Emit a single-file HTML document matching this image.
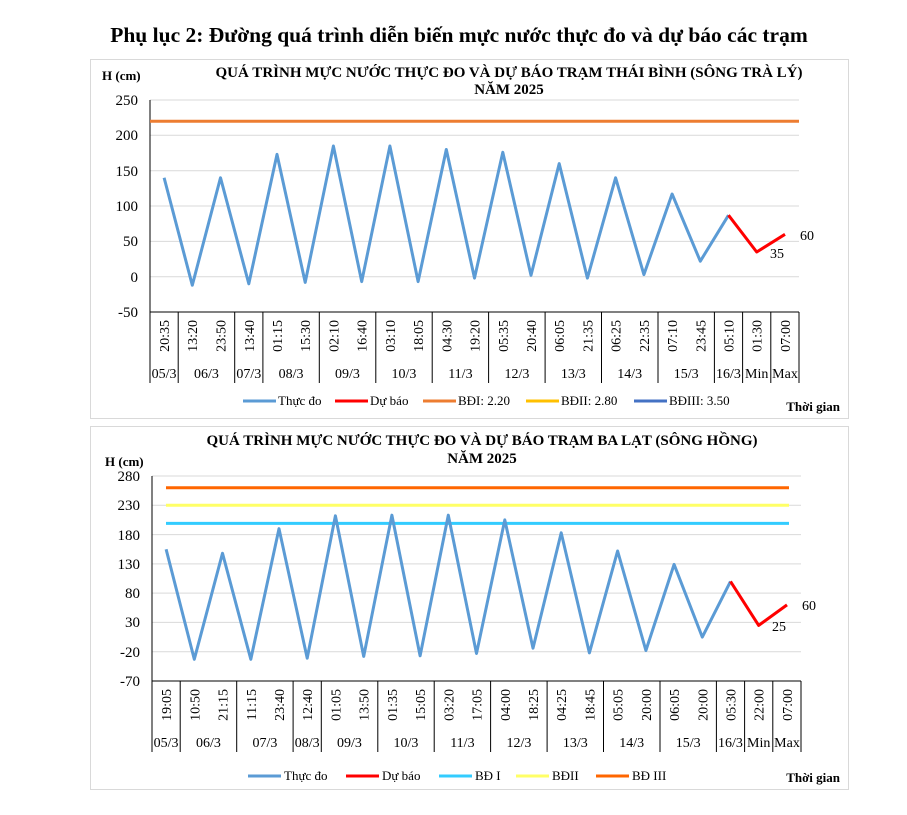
<!DOCTYPE html>
<html><head><meta charset="utf-8"><style>
body{margin:0;background:#fff;}
svg{display:block;font-family:"Liberation Serif",serif;}
</style></head><body>
<svg width="907" height="815" viewBox="0 0 907 815">
<text x="459" y="42" text-anchor="middle" font-size="21.5" font-weight="bold">Phụ lục 2: Đường quá trình diễn biến mực nước thực đo và dự báo các trạm</text>

<!-- Chart 1 -->
<rect x="90.5" y="59.5" width="758" height="359" fill="#fff" stroke="#d9d9d9"/>
<text x="102" y="80" font-size="13" font-weight="bold">H (cm)</text>
<text x="509" y="77" text-anchor="middle" font-size="15" font-weight="bold">QUÁ TRÌNH MỰC NƯỚC THỰC ĐO VÀ DỰ BÁO TRẠM THÁI BÌNH (SÔNG TRÀ LÝ)</text>
<text x="509" y="94" text-anchor="middle" font-size="15" font-weight="bold">NĂM 2025</text>
<g stroke="#d9d9d9" stroke-width="1">
<line x1="150" x2="799" y1="100" y2="100"/><line x1="150" x2="799" y1="135.3" y2="135.3"/><line x1="150" x2="799" y1="170.7" y2="170.7"/><line x1="150" x2="799" y1="206" y2="206"/><line x1="150" x2="799" y1="241.4" y2="241.4"/><line x1="150" x2="799" y1="276.7" y2="276.7"/>
</g>
<g font-size="15" text-anchor="end">
<text x="138" y="105">250</text><text x="138" y="140">200</text><text x="138" y="176">150</text><text x="138" y="211">100</text><text x="138" y="246">50</text><text x="138" y="282">0</text><text x="138" y="317">-50</text>
</g>
<line x1="150" x2="150" y1="100" y2="312" stroke="#000"/>
<line x1="150" x2="799" y1="312" y2="312" stroke="#000"/>
<g stroke="#000"><line x1="150" x2="150" y1="312" y2="383"/><line x1="178.2" x2="178.2" y1="312" y2="383"/><line x1="234.7" x2="234.7" y1="312" y2="383"/><line x1="262.9" x2="262.9" y1="312" y2="383"/><line x1="319.3" x2="319.3" y1="312" y2="383"/><line x1="375.8" x2="375.8" y1="312" y2="383"/><line x1="432.2" x2="432.2" y1="312" y2="383"/><line x1="488.6" x2="488.6" y1="312" y2="383"/><line x1="545.1" x2="545.1" y1="312" y2="383"/><line x1="601.5" x2="601.5" y1="312" y2="383"/><line x1="658" x2="658" y1="312" y2="383"/><line x1="714.4" x2="714.4" y1="312" y2="383"/><line x1="742.6" x2="742.6" y1="312" y2="383"/><line x1="770.8" x2="770.8" y1="312" y2="383"/><line x1="799" x2="799" y1="312" y2="383"/></g>
<line x1="150" x2="799" y1="121.2" y2="121.2" stroke="#ED7D31" stroke-width="3"/>
<polyline fill="none" stroke="#5B9BD5" stroke-width="3" stroke-linejoin="round" points="164.1,177.8 192.3,285.2 220.5,177.8 248.8,283.8 277,154.4 305.2,282.4 333.4,146 361.7,281.6 389.9,146 418.1,281.6 446.3,149.5 474.5,278.1 502.8,152.3 531,275.3 559.2,163.6 587.4,278.1 615.6,177.8 643.9,274.6 672.1,194 700.3,261.2 728.5,215.2"/>
<polyline fill="none" stroke="#FF0000" stroke-width="3" stroke-linejoin="round" points="728.5,215.2 756.7,252 785,234.3"/>
<text x="800" y="240" font-size="14">60</text><text x="770" y="258" font-size="14">35</text>
<g font-size="14" text-anchor="end">
<text transform="translate(169,320) rotate(-90)">20:35</text><text transform="translate(197,320) rotate(-90)">13:20</text><text transform="translate(225.5,320) rotate(-90)">23:50</text><text transform="translate(253.8,320) rotate(-90)">13:40</text><text transform="translate(282,320) rotate(-90)">01:15</text><text transform="translate(310.2,320) rotate(-90)">15:30</text><text transform="translate(338.4,320) rotate(-90)">02:10</text><text transform="translate(366.7,320) rotate(-90)">16:40</text><text transform="translate(394.9,320) rotate(-90)">03:10</text><text transform="translate(423.1,320) rotate(-90)">18:05</text><text transform="translate(451.3,320) rotate(-90)">04:30</text><text transform="translate(479.5,320) rotate(-90)">19:20</text><text transform="translate(507.8,320) rotate(-90)">05:35</text><text transform="translate(536,320) rotate(-90)">20:40</text><text transform="translate(564.2,320) rotate(-90)">06:05</text><text transform="translate(592.4,320) rotate(-90)">21:35</text><text transform="translate(620.6,320) rotate(-90)">06:25</text><text transform="translate(648.9,320) rotate(-90)">22:35</text><text transform="translate(677.1,320) rotate(-90)">07:10</text><text transform="translate(705.3,320) rotate(-90)">23:45</text><text transform="translate(733.5,320) rotate(-90)">05:10</text><text transform="translate(761.7,320) rotate(-90)">01:30</text><text transform="translate(790,320) rotate(-90)">07:00</text>
</g>
<g font-size="14" text-anchor="middle">
<text x="164.1" y="378">05/3</text><text x="206.4" y="378">06/3</text><text x="248.8" y="378">07/3</text><text x="291.1" y="378">08/3</text><text x="347.5" y="378">09/3</text><text x="404" y="378">10/3</text><text x="460.4" y="378">11/3</text><text x="516.9" y="378">12/3</text><text x="573.3" y="378">13/3</text><text x="629.7" y="378">14/3</text><text x="686.2" y="378">15/3</text><text x="728.5" y="378">16/3</text><text x="756.7" y="378">Min</text><text x="785" y="378">Max</text>
</g>
<g font-size="13">
<line x1="243" x2="276" y1="401" y2="401" stroke="#5B9BD5" stroke-width="3"/><text x="278" y="405">Thực đo</text>
<line x1="335" x2="368" y1="401" y2="401" stroke="#FF0000" stroke-width="3"/><text x="370" y="405">Dự báo</text>
<line x1="423" x2="456" y1="401" y2="401" stroke="#ED7D31" stroke-width="3"/><text x="458" y="405">BĐI: 2.20</text>
<line x1="526" x2="559" y1="401" y2="401" stroke="#FFC000" stroke-width="3"/><text x="561" y="405">BĐII: 2.80</text>
<line x1="634" x2="667" y1="401" y2="401" stroke="#4472C4" stroke-width="3"/><text x="669" y="405">BĐIII: 3.50</text>
<text x="840" y="411" text-anchor="end" font-weight="bold">Thời gian</text>
</g>

<!-- Chart 2 -->
<rect x="90.5" y="426.5" width="758" height="363" fill="#fff" stroke="#d9d9d9"/>
<text x="105" y="466" font-size="13" font-weight="bold">H (cm)</text>
<text x="482" y="445" text-anchor="middle" font-size="15" font-weight="bold">QUÁ TRÌNH MỰC NƯỚC THỰC ĐO VÀ DỰ BÁO TRẠM BA LẠT (SÔNG HỒNG)</text>
<text x="482" y="463" text-anchor="middle" font-size="15" font-weight="bold">NĂM 2025</text>
<g stroke="#d9d9d9" stroke-width="1">
<line x1="152" x2="801" y1="476" y2="476"/><line x1="152" x2="801" y1="505.3" y2="505.3"/><line x1="152" x2="801" y1="534.6" y2="534.6"/><line x1="152" x2="801" y1="563.9" y2="563.9"/><line x1="152" x2="801" y1="593.1" y2="593.1"/><line x1="152" x2="801" y1="622.4" y2="622.4"/><line x1="152" x2="801" y1="651.7" y2="651.7"/>
</g>
<g font-size="15" text-anchor="end">
<text x="140" y="481">280</text><text x="140" y="510">230</text><text x="140" y="540">180</text><text x="140" y="569">130</text><text x="140" y="598">80</text><text x="140" y="627">30</text><text x="140" y="657">-20</text><text x="140" y="686">-70</text>
</g>
<line x1="152" x2="152" y1="476" y2="681" stroke="#000"/>
<line x1="152" x2="801" y1="681" y2="681" stroke="#000"/>
<g stroke="#000"><line x1="152" x2="152" y1="681" y2="752"/><line x1="180.2" x2="180.2" y1="681" y2="752"/><line x1="236.7" x2="236.7" y1="681" y2="752"/><line x1="293.1" x2="293.1" y1="681" y2="752"/><line x1="321.3" x2="321.3" y1="681" y2="752"/><line x1="377.8" x2="377.8" y1="681" y2="752"/><line x1="434.2" x2="434.2" y1="681" y2="752"/><line x1="490.6" x2="490.6" y1="681" y2="752"/><line x1="547.1" x2="547.1" y1="681" y2="752"/><line x1="603.5" x2="603.5" y1="681" y2="752"/><line x1="660" x2="660" y1="681" y2="752"/><line x1="716.4" x2="716.4" y1="681" y2="752"/><line x1="744.6" x2="744.6" y1="681" y2="752"/><line x1="772.8" x2="772.8" y1="681" y2="752"/><line x1="801" x2="801" y1="681" y2="752"/></g>
<line x1="166" x2="789" y1="487.7" y2="487.7" stroke="#FF6600" stroke-width="3"/>
<line x1="166" x2="789" y1="505.3" y2="505.3" stroke="#FFFF66" stroke-width="3"/>
<line x1="166" x2="789" y1="523.4" y2="523.4" stroke="#33CCFF" stroke-width="3"/>
<polyline fill="none" stroke="#5B9BD5" stroke-width="3" stroke-linejoin="round" points="166.1,549.2 194.3,659.3 222.5,553.3 250.8,659.3 279,528.7 307.2,658.2 335.4,515.8 363.7,656.4 391.9,515.2 420.1,655.8 448.3,515.2 476.5,653.5 504.8,519.9 533,648.2 561.2,532.8 589.4,652.9 617.6,551 645.9,650.5 674.1,564.4 702.3,637.1 730.5,581.4"/>
<polyline fill="none" stroke="#FF0000" stroke-width="3" stroke-linejoin="round" points="730.5,581.4 758.7,625.4 787,604.9"/>
<text x="802" y="610" font-size="14">60</text><text x="772" y="631" font-size="14">25</text>
<g font-size="14" text-anchor="end">
<text transform="translate(171,689) rotate(-90)">19:05</text><text transform="translate(199.3,689) rotate(-90)">10:50</text><text transform="translate(227.5,689) rotate(-90)">21:15</text><text transform="translate(255.8,689) rotate(-90)">11:15</text><text transform="translate(284,689) rotate(-90)">23:40</text><text transform="translate(312.2,689) rotate(-90)">12:40</text><text transform="translate(340.4,689) rotate(-90)">01:05</text><text transform="translate(368.7,689) rotate(-90)">13:50</text><text transform="translate(396.9,689) rotate(-90)">01:35</text><text transform="translate(425.1,689) rotate(-90)">15:05</text><text transform="translate(453.3,689) rotate(-90)">03:20</text><text transform="translate(481.5,689) rotate(-90)">17:05</text><text transform="translate(509.8,689) rotate(-90)">04:00</text><text transform="translate(538,689) rotate(-90)">18:25</text><text transform="translate(566.2,689) rotate(-90)">04:25</text><text transform="translate(594.4,689) rotate(-90)">18:45</text><text transform="translate(622.6,689) rotate(-90)">05:05</text><text transform="translate(650.9,689) rotate(-90)">20:00</text><text transform="translate(679.1,689) rotate(-90)">06:05</text><text transform="translate(707.3,689) rotate(-90)">20:00</text><text transform="translate(735.5,689) rotate(-90)">05:30</text><text transform="translate(763.7,689) rotate(-90)">22:00</text><text transform="translate(792,689) rotate(-90)">07:00</text>
</g>
<g font-size="14" text-anchor="middle">
<text x="166.1" y="747">05/3</text><text x="208.4" y="747">06/3</text><text x="264.9" y="747">07/3</text><text x="307.2" y="747">08/3</text><text x="349.5" y="747">09/3</text><text x="406" y="747">10/3</text><text x="462.4" y="747">11/3</text><text x="518.9" y="747">12/3</text><text x="575.3" y="747">13/3</text><text x="631.7" y="747">14/3</text><text x="688.2" y="747">15/3</text><text x="730.5" y="747">16/3</text><text x="758.7" y="747">Min</text><text x="787" y="747">Max</text>
</g>
<g font-size="13">
<line x1="248" x2="281" y1="776" y2="776" stroke="#5B9BD5" stroke-width="3"/><text x="284" y="780">Thực đo</text>
<line x1="346" x2="379" y1="776" y2="776" stroke="#FF0000" stroke-width="3"/><text x="382" y="780">Dự báo</text>
<line x1="439" x2="472" y1="776" y2="776" stroke="#33CCFF" stroke-width="3"/><text x="475" y="780">BĐ I</text>
<line x1="516" x2="549" y1="776" y2="776" stroke="#FFFF66" stroke-width="3"/><text x="552" y="780">BĐII</text>
<line x1="596" x2="629" y1="776" y2="776" stroke="#FF6600" stroke-width="3"/><text x="632" y="780">BĐ III</text>
<text x="840" y="782" text-anchor="end" font-weight="bold">Thời gian</text>
</g>
</svg>
</body></html>
